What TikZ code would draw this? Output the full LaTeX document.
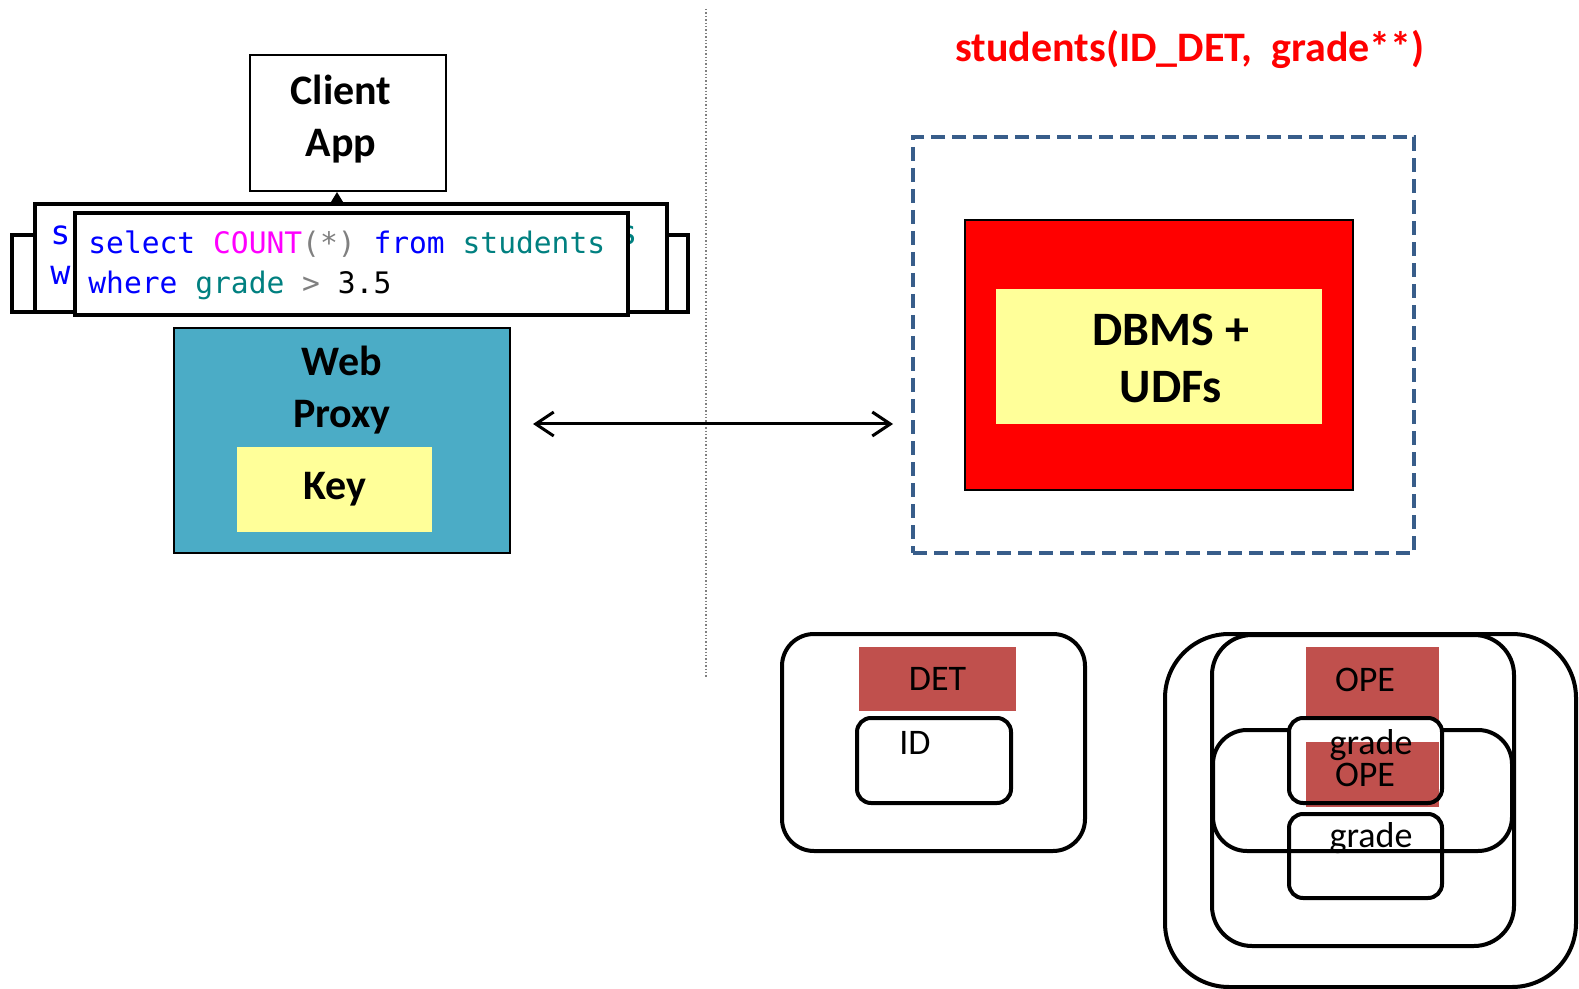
\documentclass[tikz,border=0pt]{standalone}
\usepackage{fontspec}
\setmainfont{Carlito}
\newfontfamily\codefont{DejaVu Sans Mono}
\usetikzlibrary{arrows.meta,positioning}

\definecolor{proxyblue}{RGB}{75,172,198}
\definecolor{keyyellow}{RGB}{255,255,153}
\definecolor{onionred}{RGB}{192,80,77}
\definecolor{dashblue}{RGB}{56,93,138}
\definecolor{sqlblue}{RGB}{0,0,255}
\definecolor{sqlpink}{RGB}{255,0,255}
\definecolor{sqlteal}{RGB}{0,128,128}
\definecolor{sqlgray}{RGB}{128,128,128}

\newcommand{\sqlA}{\textcolor{sqlblue}{select} \textcolor{sqlpink}{COUNT}\textcolor{sqlgray}{(*)} \textcolor{sqlblue}{from} \textcolor{sqlteal}{students}}
\newcommand{\sqlB}{\textcolor{sqlblue}{where} \textcolor{sqlteal}{grade} \textcolor{sqlgray}{>} 3.5}

\begin{document}
\begin{tikzpicture}[x=.5pt,y=-.5pt,>={Straight Barb[length=9pt,width=12pt]},
  plainbox/.style={draw,line width=1pt,fill=white,inner sep=0pt},
  qbox/.style={draw,line width=2pt,fill=white,inner sep=0pt},
  onion/.style={draw,line width=2pt,rounded corners=#1,inner sep=0pt},
  onion/.default=8pt,
  bigtxt/.style={font=\bfseries\fontsize{21}{26}\selectfont,align=center},
  smalltxt/.style={font=\fontsize{18}{21}\selectfont},
  codetxt/.style={anchor=west,inner sep=0pt,font=\codefont\fontsize{#1}{#1}\selectfont}]
\useasboundingbox (0,0) rectangle (1579,989);

% client side
\node[qbox,minimum width=338pt,minimum height=38.5pt] (qback) at (350,273.5) {};
\node[qbox,minimum width=316pt,minimum height=54pt] (qmid) at (351,258) {};
\node[codetxt=16.7,text=sqlblue] (qmidA) at (50,235) {s};
\node[codetxt=16.7,text=sqlblue] (qmidB) at (50,275) {w};
\node[codetxt=16.7,text=sqlteal] (qmidC) at (617,235) {s};
\node[qbox,minimum width=276.5pt,minimum height=51pt] (qfront) at (351.5,264) {};
\node[codetxt=14.8] (qA) at (88,244) {\sqlA};
\node[codetxt=14.8] (qB) at (88,285) {\sqlB};

\node[plainbox,minimum width=98pt,minimum height=68pt] (client) at (348,123) {};
\node[bigtxt] (clienttxt) at (341,119) {Client\\App};
\coordinate (qtip) at (337,204);
\draw[-{Triangle[length=6pt,width=7pt]},line width=1pt] (qtip) -- (qtip |- client.south);

\node[plainbox,fill=proxyblue,minimum width=168pt,minimum height=112.5pt] (proxy) at (342,440.5) {};
\node[bigtxt] (proxytxt) at (342,390) {Web\\Proxy};
\node[bigtxt,fill=keyyellow,inner sep=0pt,minimum width=97.5pt,minimum height=42.5pt] (key) at (334.5,489.5) {Key};

% divider
\coordinate (divtop) at (706,9);
\coordinate (divbot) at (706,678);
\draw[gray,densely dotted,line width=.7pt] (divtop) -- (divbot);

% server side
\node[text=red,font=\bfseries\fontsize{21}{25}\selectfont] (title) at (1190,49) {students(ID\_DET,\ \ grade**)};
\node[draw=dashblue,line width=2.3pt,dash pattern=on 7pt off 3.5pt,minimum width=250.5pt,minimum height=208pt] (server) at (1163.5,345) {};
\node[plainbox,fill=red,minimum width=194pt,minimum height=135pt] (dbred) at (1159,355) {};
\node[fill=keyyellow,inner sep=0pt,minimum width=163pt,minimum height=67.5pt] (dbms) at (1159,356.5) {};
\node[font=\bfseries\fontsize{24}{28.5}\selectfont,align=center] (dbmstxt) at (1171,358) {DBMS +\\UDFs};

\coordinate (arL) at (533,424);
\coordinate (arR) at (893,424);
\draw[<->,line width=1.5pt] (arL) -- (arR);

% DET onion
\node[onion=16pt,minimum width=151.5pt,minimum height=108.5pt] (detout) at (933.5,742.5) {};
\node[smalltxt,fill=onionred,inner sep=0pt,minimum width=78.5pt,minimum height=32pt] (det) at (937.5,679) {DET};
\node[onion=7pt,minimum width=77pt,minimum height=42.5pt] (idbox) at (934,760.5) {};
\node[smalltxt] (idtxt) at (915,743) {ID};

% OPE onion
\node[onion=32pt,minimum width=205.5pt,minimum height=176.5pt] (opeout) at (1370.5,810.5) {};
\node[onion=20pt,minimum width=151pt,minimum height=155.5pt] (opemid) at (1363,790.5) {};
\node[fill=onionred,inner sep=0pt,minimum width=66.5pt,minimum height=36.5pt] (ope1) at (1372.5,683.5) {};
\node[onion=17pt,minimum width=149.5pt,minimum height=60.5pt] (opein) at (1362.5,790.5) {};
\node[fill=white,rounded corners=7pt,inner sep=0pt,minimum width=76.5pt,minimum height=42.5pt] (grd1bg) at (1365.5,760.5) {};
\node[fill=onionred,inner sep=0pt,minimum width=66.5pt,minimum height=32.5pt] (ope2) at (1372.5,774.5) {};
\node[onion=7pt,minimum width=76.5pt,minimum height=42.5pt] (grd1) at (1365.5,760.5) {};
\node[onion=7pt,minimum width=76.5pt,minimum height=42pt] (grd2) at (1365.5,856) {};
\node[smalltxt] (opetxtA) at (1365,680) {OPE};
\node[smalltxt] (opetxtB) at (1365,775) {OPE};
\node[smalltxt] (grdtxtA) at (1371,745) {grade};
\node[smalltxt] (grdtxtB) at (1371,838) {grade};
\end{tikzpicture}
\end{document}
